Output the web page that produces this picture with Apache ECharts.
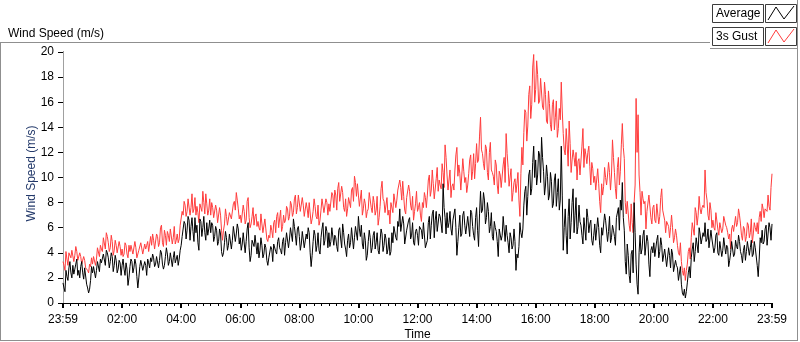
<!DOCTYPE html>
<html lang="en">
<head>
    <meta charset="UTF-8">
    <title>Wind Speed</title>
    <script src="https://cdn.jsdelivr.net/npm/echarts@6/dist/echarts.min.js"></script>
    <style>
        html,body{margin:0;padding:0;background:#fff;}
        #chart{width:800px;height:342px;}
    </style>
</head>
<body>
<div id="chart"></div>
<script>
    // samples every 2 minutes from 23:59: avgSpeed/gustSpeed at 0,4,8.. min, the *Mid arrays at 2,6,10.. min
    var TICK_LABELS = ['23:59','02:00','04:00','06:00','08:00','10:00','12:00','14:00','16:00','18:00','20:00','22:00','23:59'];
    var SERIES_NAMES = ['Average', '3s Gust'];

    var avgSpeed = [
        1.6, 0.9, 2.1, 2.8, 2.4, 3.0, 2.7, 3.5, 2.6, 2.9, 2.4, 2.8, 1.5, 0.8, 1.8,
        2.4, 2.9, 2.6, 3.2, 3.5, 3.1, 3.9, 4.2, 3.6, 3.3, 3.7, 3.0, 3.4, 2.7, 3.2,
        3.0, 2.7, 3.2, 1.4, 2.9, 3.3, 2.8, 3.1, 1.2, 2.9, 3.4, 2.6, 3.0, 3.5, 2.8,
        3.3, 3.6, 3.1, 3.8, 3.4, 4.0, 2.7, 3.7, 3.9, 3.3, 4.1, 3.6, 3.2, 3.8, 3.5,
        4.6, 5.4, 6.3, 5.8, 6.6, 6.1, 5.7, 6.8, 6.2, 4.2, 6.5, 6.0, 5.6, 6.4, 5.9,
        5.6, 6.2, 5.3, 5.8, 4.9, 5.5, 3.7, 4.8, 5.2, 4.6, 5.4, 5.0, 6.1, 5.5, 5.9,
        5.2, 4.7, 5.5, 4.9, 6.4, 3.3, 5.0, 4.5, 5.3, 4.8, 4.2, 4.6, 3.9, 4.4, 3.0,
        3.6, 4.3, 4.7, 4.1, 4.9, 4.4, 3.9, 5.2, 4.8, 5.6, 5.1, 6.0, 6.7, 5.4, 5.9,
        5.3, 4.7, 5.8, 4.4, 5.1, 5.6, 2.9, 4.9, 5.4, 4.6, 4.2, 5.2, 6.4, 5.0, 5.7,
        5.6, 4.9, 6.1, 5.4, 4.5, 5.8, 5.1, 6.3, 4.7, 3.7, 5.5, 4.8, 5.9, 5.2, 6.2,
        6.9, 5.3, 4.7, 5.6, 3.4, 4.9, 5.2, 4.4, 5.7, 4.8, 4.2, 5.0, 5.5, 4.6, 5.1,
        4.3, 3.8, 5.6, 6.1, 5.2, 6.5, 7.5, 5.8, 6.3, 4.6, 5.9, 6.8, 5.4, 4.8, 5.7,
        5.4, 6.1, 5.8, 6.4, 4.4, 5.0, 6.9, 6.2, 7.4, 6.6, 5.7, 7.1, 6.3, 9.5, 6.8,
        7.2, 6.4, 5.9, 6.6, 7.5, 3.8, 6.0, 5.3, 7.0, 6.2, 5.6, 6.8, 7.4, 6.1, 5.0,
        7.6, 4.5, 8.9, 7.4, 8.2, 6.8, 7.3, 6.1, 5.3, 6.5, 5.7, 3.7, 6.0, 5.4, 7.0,
        6.2, 4.8, 5.6, 4.3, 5.9, 2.6, 3.6, 6.4, 5.2, 7.8, 9.3, 8.5, 10.6, 9.1, 12.5,
        11.4, 10.2, 11.8, 13.2, 10.5, 9.4, 10.1, 8.6, 9.7, 7.9, 10.3, 8.8, 7.4, 12.5, 4.2,
        7.5, 3.9, 8.3, 6.4, 9.1, 7.0, 5.5, 7.8, 6.2, 4.7, 6.9, 7.5, 5.6, 6.6, 4.6,
        6.3, 5.1, 6.0, 4.0, 5.4, 7.1, 6.5, 5.7, 4.8, 6.2, 5.3, 6.8, 7.6, 8.2, 9.6,
        5.8, 2.3, 3.8, 1.6, 4.2, 8.0, 3.1, 0.7, 5.4, 4.3, 5.8, 3.9, 4.9, 2.1, 4.5,
        4.8, 3.7, 5.4, 4.1, 4.6, 3.3, 4.2, 2.9, 3.8, 4.3, 2.5, 3.4, 2.8, 1.9, 1.5,
        0.6, 0.4, 1.6, 2.9, 3.6, 4.8, 4.1, 5.3, 6.0, 4.7, 5.6, 6.4, 5.1, 4.4, 5.8,
        5.1, 4.4, 5.6, 3.8, 4.8, 4.2, 5.3, 4.6, 2.9, 4.0, 5.0, 3.9, 4.5, 5.4, 4.1,
        3.2, 4.6, 4.1, 5.0, 4.4, 3.7, 4.9, 4.3, 2.1, 5.2, 5.8, 4.9, 6.2, 5.5, 6.0, 6.3
    ];

    var avgSpeedMid = [
        1.2, 2.6, 1.8, 3.3, 2.0, 2.3, 3.1, 2.2, 2.0, 3.3, 1.9, 2.7, 1.2, 1.1, 2.9,
        2.9, 2.0, 3.3, 2.5, 3.2, 3.9, 3.0, 4.0, 2.8, 4.0, 2.5, 3.8, 2.4, 3.4, 2.2,
        3.5, 2.2, 2.7, 2.0, 3.5, 2.4, 3.5, 2.1, 2.0, 3.4, 2.6, 3.3, 2.2, 3.2, 3.6,
        3.9, 2.9, 3.7, 2.8, 4.2, 3.1, 3.0, 4.4, 3.0, 4.0, 2.9, 4.1, 3.1, 3.0, 4.2,
        5.3, 6.5, 5.1, 6.9, 5.0, 6.8, 4.9, 5.6, 4.8, 6.7, 5.3, 6.9, 5.0, 5.4, 6.6,
        6.4, 4.9, 6.1, 4.6, 5.9, 4.1, 4.0, 5.7, 4.2, 5.5, 4.3, 6.1, 4.9, 6.3, 4.7,
        4.2, 5.6, 4.0, 5.9, 4.4, 3.8, 4.9, 5.4, 3.9, 3.6, 5.2, 3.6, 4.7, 3.4, 3.6,
        4.5, 3.3, 4.6, 3.9, 5.2, 4.2, 4.9, 3.8, 5.6, 4.4, 6.0, 4.9, 6.1, 4.6, 6.1,
        4.2, 5.7, 4.4, 5.5, 6.0, 4.0, 3.8, 5.8, 4.1, 5.6, 3.9, 5.9, 4.6, 6.1, 4.4,
        4.5, 6.0, 4.6, 5.2, 4.1, 6.0, 4.4, 5.6, 4.3, 5.0, 4.4, 6.0, 4.3, 6.1, 5.0,
        5.9, 6.2, 4.3, 5.0, 3.8, 5.8, 4.0, 5.4, 4.3, 5.6, 3.9, 5.9, 4.1, 5.5, 3.9,
        5.2, 4.1, 4.8, 6.2, 5.0, 6.1, 5.7, 6.9, 4.7, 5.8, 6.6, 5.1, 6.4, 4.6, 5.9,
        4.6, 6.0, 5.1, 6.3, 4.7, 6.4, 5.1, 7.1, 5.2, 7.3, 5.6, 6.9, 5.6, 7.6, 5.5,
        6.0, 7.3, 5.4, 6.5, 6.0, 4.9, 7.0, 5.5, 7.3, 5.5, 6.9, 5.3, 7.2, 5.4, 6.8,
        5.8, 7.1, 7.2, 8.8, 6.3, 8.0, 5.6, 7.2, 5.0, 6.0, 4.9, 5.9, 5.0, 6.9, 4.9,
        5.4, 4.0, 5.2, 4.6, 4.9, 3.9, 4.5, 5.6, 5.9, 8.9, 7.0, 10.2, 8.6, 11.2, 10.0,
        9.4, 12.1, 9.6, 11.6, 8.6, 11.0, 8.2, 10.4, 7.6, 9.8, 7.7, 9.9, 8.2, 8.6, 6.0,
        5.4, 6.9, 5.1, 8.0, 5.6, 8.4, 6.1, 6.5, 5.4, 6.8, 5.0, 6.8, 6.3, 5.0, 5.4,
        5.0, 6.8, 4.6, 6.0, 5.5, 6.6, 4.9, 6.9, 5.2, 5.8, 4.6, 6.7, 5.8, 7.4, 6.8,
        3.3, 4.7, 2.2, 3.9, 2.4, 5.6, 1.5, 4.0, 3.9, 5.4, 3.8, 5.4, 3.1, 4.2, 4.0,
        3.7, 5.0, 3.6, 5.2, 3.3, 4.3, 2.9, 4.4, 2.8, 3.9, 2.6, 3.0, 1.8, 2.9, 0.8,
        1.1, 0.9, 2.4, 2.0, 4.3, 3.3, 5.2, 4.0, 5.5, 4.6, 5.3, 4.9, 5.9, 4.5, 5.1,
        4.0, 5.4, 4.0, 4.9, 3.7, 5.2, 3.9, 4.4, 3.4, 4.9, 3.7, 5.0, 4.3, 4.9, 3.8,
        4.2, 3.4, 4.9, 3.8, 5.0, 3.9, 4.4, 3.0, 3.5, 4.8, 4.7, 5.9, 4.6, 6.4, 5.0
    ];

    var gustSpeed = [
        3.3, 2.6, 3.5, 4.0, 3.6, 4.2, 3.8, 4.1, 3.4, 3.7, 3.1, 3.4, 2.8, 2.4, 2.9,
        3.1, 3.8, 3.5, 4.3, 4.6, 4.1, 5.1, 5.6, 4.8, 4.4, 4.9, 4.2, 4.6, 3.9, 4.5,
        4.3, 3.9, 4.6, 3.6, 4.1, 4.7, 4.0, 4.4, 3.5, 4.2, 4.8, 3.8, 4.3, 4.9, 4.1,
        4.6, 5.0, 4.4, 5.3, 4.8, 6.2, 4.5, 5.4, 5.7, 4.9, 6.0, 5.2, 4.7, 5.5, 5.1,
        6.1, 7.0, 7.8, 7.3, 8.2, 7.6, 7.2, 8.4, 7.7, 6.4, 8.0, 8.9, 7.1, 7.9, 7.4,
        7.0, 7.6, 6.8, 7.4, 6.5, 7.0, 5.0, 6.3, 6.9, 6.1, 7.2, 6.6, 8.1, 8.8, 7.5,
        7.0, 6.4, 7.3, 6.6, 8.4, 6.0, 6.9, 6.2, 7.1, 6.5, 5.8, 6.3, 5.5, 5.9, 4.9,
        5.2, 5.8, 6.4, 5.6, 7.2, 6.1, 5.7, 7.0, 6.6, 7.5, 6.9, 7.8, 7.2, 8.6, 7.6,
        8.7, 7.2, 7.8, 6.8, 7.5, 8.0, 6.3, 7.3, 7.7, 6.7, 6.2, 7.4, 8.3, 7.1, 8.0,
        7.9, 7.2, 8.6, 9.0, 7.4, 9.6, 8.0, 8.8, 7.3, 6.9, 8.4, 7.6, 9.2, 10.1, 8.5,
        8.6, 7.8, 7.0, 8.3, 6.8, 7.5, 8.9, 7.2, 8.0, 7.4, 6.2, 7.7, 9.7, 8.1, 7.3,
        7.0, 6.3, 8.1, 8.7, 7.6, 9.0, 9.8, 8.2, 8.5, 7.1, 8.3, 8.9, 7.4, 6.6, 7.9,
        7.3, 8.0, 6.5, 7.6, 8.4, 8.6, 10.2, 9.0, 9.5, 8.4, 10.8, 9.8, 9.1, 10.4, 12.6,
        10.2, 9.1, 8.4, 9.5, 10.6, 12.4, 11.0, 9.0, 11.5, 9.6, 8.8, 10.3, 11.8, 10.5, 9.9,
        12.7, 11.4, 14.8, 11.9, 10.6, 12.3, 9.8, 12.8, 10.4, 9.4, 11.0, 8.7, 10.2, 9.3, 11.6,
        13.5, 10.8, 9.2, 8.1, 9.6, 8.8, 10.4, 6.9, 12.4, 13.6, 15.2, 14.1, 17.3, 15.8, 19.8,
        17.0, 18.2, 16.1, 17.8, 15.4, 16.6, 14.3, 15.9, 13.7, 16.2, 14.8, 13.2, 15.5, 17.6, 13.5,
        11.8, 12.6, 14.5, 10.4, 12.2, 10.9, 9.8, 11.5, 10.2, 13.9, 12.3, 11.1, 12.5, 9.4, 10.7,
        10.1, 8.9, 9.5, 7.2, 8.6, 10.8, 9.4, 11.2, 9.0, 13.0, 10.4, 8.3, 11.6, 10.5, 14.3,
        11.5, 7.1, 8.2, 5.7, 6.4, 8.0, 16.3, 15.0, 8.8, 8.9, 7.9, 5.9, 7.4, 8.5, 6.3,
        7.8, 6.4, 7.9, 6.9, 9.1, 7.3, 5.6, 6.5, 5.2, 7.0, 4.8, 5.9, 4.6, 3.8, 3.3,
        2.2, 1.8, 3.1, 4.4, 5.2, 6.5, 7.6, 6.2, 8.5, 7.1, 7.8, 10.6, 8.2, 6.6, 7.4,
        6.6, 5.8, 7.1, 5.4, 6.4, 5.9, 6.9, 6.0, 5.1, 4.3, 6.2, 5.6, 6.1, 7.5, 6.3,
        5.0, 5.9, 5.3, 6.2, 5.6, 4.8, 6.4, 5.7, 5.5, 7.3, 7.9, 6.8, 7.6, 8.6, 7.4, 10.3
    ];

    var gustSpeedMid = [
        3.0, 4.1, 3.0, 3.9, 4.2, 3.3, 4.5, 3.4, 4.0, 3.1, 3.7, 2.8, 2.6, 3.1, 3.6,
        3.7, 3.0, 4.4, 3.7, 4.3, 5.2, 4.3, 5.3, 4.1, 5.4, 3.8, 5.0, 4.0, 4.9, 3.8,
        3.7, 4.8, 3.9, 4.6, 4.6, 3.9, 4.9, 3.6, 4.2, 4.8, 3.9, 4.7, 4.6, 4.1, 5.3,
        5.5, 4.3, 5.5, 4.5, 6.0, 4.8, 5.8, 4.6, 5.4, 5.9, 4.7, 6.1, 5.0, 4.8, 6.2,
        7.3, 8.1, 6.9, 8.3, 7.0, 8.7, 7.5, 7.0, 7.2, 7.9, 7.3, 8.0, 8.7, 7.0, 8.3,
        8.0, 6.8, 7.8, 6.4, 7.6, 5.8, 5.8, 7.5, 6.2, 7.2, 6.7, 7.9, 7.4, 8.2, 6.7,
        6.4, 7.8, 6.3, 8.1, 6.8, 6.3, 7.6, 6.9, 6.1, 6.0, 7.1, 5.6, 6.7, 5.1, 5.4,
        6.2, 5.2, 6.6, 6.9, 6.0, 7.4, 6.1, 6.4, 7.7, 6.6, 8.1, 6.9, 8.3, 7.1, 8.6,
        7.3, 8.4, 6.9, 8.0, 6.8, 7.9, 6.7, 8.3, 6.9, 7.8, 6.6, 8.3, 7.2, 8.3, 7.0,
        7.3, 8.8, 7.6, 8.6, 9.1, 8.1, 9.3, 7.6, 8.3, 7.5, 8.4, 9.0, 8.1, 9.6, 9.5,
        7.7, 9.0, 7.5, 7.9, 7.3, 8.8, 7.6, 8.5, 7.0, 8.5, 6.8, 9.1, 8.3, 7.2, 8.4,
        7.4, 8.0, 7.2, 8.7, 8.2, 8.9, 9.2, 9.7, 7.4, 8.4, 9.4, 7.8, 8.5, 7.3, 8.9,
        7.6, 7.0, 8.0, 8.8, 7.6, 9.8, 8.5, 10.6, 8.3, 9.9, 8.9, 9.4, 11.1, 9.2, 11.6,
        9.0, 10.6, 9.3, 9.0, 11.8, 10.1, 10.3, 10.2, 10.5, 10.0, 9.4, 11.4, 9.8, 11.9, 11.1,
        11.2, 13.3, 12.2, 11.1, 12.6, 10.4, 12.0, 10.6, 10.1, 11.4, 9.4, 10.5, 9.2, 11.0, 9.6,
        11.9, 9.3, 10.7, 8.8, 9.9, 9.5, 8.2, 10.3, 11.0, 15.4, 12.9, 16.6, 14.7, 18.8, 16.0,
        19.3, 15.9, 17.9, 15.6, 17.6, 14.5, 16.9, 14.2, 15.8, 13.8, 16.1, 13.9, 14.6, 15.3, 12.2,
        13.9, 10.9, 12.7, 11.4, 11.6, 12.0, 11.3, 10.2, 12.5, 10.8, 11.8, 12.0, 10.9, 11.2, 9.6,
        9.0, 10.7, 8.1, 9.5, 9.3, 10.0, 10.2, 10.4, 10.2, 11.6, 9.1, 10.8, 9.4, 12.6, 12.4,
        8.0, 8.1, 6.2, 7.9, 5.6, 9.4, 12.0, 10.2, 7.0, 8.3, 8.1, 7.3, 8.6, 6.8, 7.6,
        6.6, 7.9, 6.3, 8.4, 7.4, 6.6, 6.5, 6.1, 6.0, 6.0, 5.2, 5.4, 4.0, 4.8, 2.6,
        2.8, 2.6, 4.1, 3.5, 6.4, 5.4, 7.2, 7.0, 7.5, 7.6, 7.6, 8.8, 7.0, 8.0, 6.0,
        6.0, 7.2, 5.9, 6.4, 5.6, 6.9, 6.2, 5.6, 5.5, 5.9, 5.7, 6.9, 6.4, 7.0, 5.4,
        6.1, 4.9, 6.4, 5.2, 6.7, 5.5, 6.0, 6.4, 6.8, 6.5, 7.5, 7.5, 7.3, 7.7, 9.2
    ];

    var FONT = 'Liberation Sans, Arial, sans-serif';
    var FRAME = '#8f8f8f';

    // merge the two interleaved sample sets into [minute, value] pairs
    function pairs(onFour, between) {
        var out = [];
        for (var i = 0; i < onFour.length; i++) {
            out.push([i * 4, onFour[i]]);
            if (i < between.length) out.push([i * 4 + 2, between[i]]);
        }
        return out;
    }

    function hline(x1, x2, y, color) {
        return {type: 'line', shape: {x1: x1, y1: y, x2: x2, y2: y}, style: {stroke: color, lineWidth: 1}, silent: true};
    }
    function vline(x, y1, y2, color) {
        return {type: 'line', shape: {x1: x, y1: y1, x2: x, y2: y2}, style: {stroke: color, lineWidth: 1}, silent: true};
    }
    function legendRow(y, name, color) {
        return [
            {type: 'rect', shape: {x: 712.5, y: y + 0.5, width: 51, height: 18}, style: {fill: '#fff', stroke: '#3c3c3c', lineWidth: 1}},
            {type: 'text', x: 716, y: y + 10, style: {text: name, font: '12px ' + FONT, fill: '#000', verticalAlign: 'middle'}},
            {type: 'rect', shape: {x: 765.5, y: y + 0.5, width: 31, height: 18}, style: {fill: '#fff', stroke: '#3c3c3c', lineWidth: 1}},
            {type: 'polyline', shape: {points: [[768, y + 16], [776, y + 3], [784, y + 15], [794, y + 2]]}, style: {stroke: color, lineWidth: 1, fill: null}}
        ];
    }

    var graphics = [
        hline(0, 710, 42.5, FRAME),
        vline(0.5, 42, 341, FRAME),
        hline(0, 798, 340.5, FRAME),
        vline(797.5, 0, 341, FRAME),
        hline(710, 798, 48.5, FRAME)
    ].concat(legendRow(4, SERIES_NAMES[0], '#000'), legendRow(27, SERIES_NAMES[1], '#ff3c3c'));

    var option = {
        animation: false,
        backgroundColor: '#fff',
        title: {
            text: 'Wind Speed (m/s)',
            left: 3,
            top: 23,
            textStyle: {fontSize: 12, fontWeight: 'normal', color: '#000', fontFamily: FONT}
        },
        grid: {left: 63, right: 28, top: 52, bottom: 39, outerBoundsMode: 'none'},
        xAxis: [{
            type: 'value',
            min: 0,
            max: 1440,
            interval: 120,
            name: 'Time',
            nameLocation: 'middle',
            nameGap: 26,
            nameMoveOverlap: false,
            nameTextStyle: {fontSize: 12, color: '#000', fontFamily: FONT},
            axisLine: {show: true, lineStyle: {color: '#a0a0a0', width: 1}},
            axisTick: {show: true, length: 5, lineStyle: {color: '#000', width: 2}},
            minorTick: {show: true, splitNumber: 8, length: 3, lineStyle: {color: '#000', width: 1}},
            axisLabel: {
                fontSize: 12, color: '#000', fontFamily: FONT, margin: 11,
                showMinLabel: true, showMaxLabel: true,
                formatter: function (v) { return TICK_LABELS[Math.round(v / 120)]; }
            },
            splitLine: {show: false}
        }, {
            type: 'value', position: 'top', min: 0, max: 1440,
            axisLine: {show: true, lineStyle: {color: '#000', width: 1}},
            axisTick: {show: false}, axisLabel: {show: false}, splitLine: {show: false}
        }],
        yAxis: [{
            type: 'value',
            min: 0,
            max: 20,
            interval: 2,
            name: 'Wind Speed (m/s)',
            nameLocation: 'middle',
            nameGap: 25,
            nameMoveOverlap: false,
            nameTextStyle: {fontSize: 12, color: '#23396a', fontFamily: FONT, padding: [0, 0, 0, 8]},
            axisLine: {show: true, lineStyle: {color: '#000', width: 1}},
            axisTick: {show: true, length: 5, lineStyle: {color: '#000'}},
            axisLabel: {fontSize: 12, color: '#000', fontFamily: FONT, margin: 9},
            splitLine: {show: false}
        }, {
            type: 'value', position: 'right', min: 0, max: 20, interval: 2,
            axisLine: {show: true, lineStyle: {color: '#a0a0a0', width: 1}},
            axisTick: {show: false}, axisLabel: {show: false}, splitLine: {show: false}
        }],
        graphic: graphics,
        series: [{
            name: SERIES_NAMES[1],
            type: 'line',
            data: pairs(gustSpeed, gustSpeedMid),
            showSymbol: false,
            lineStyle: {color: '#ff3c3c', width: 1},
            itemStyle: {color: '#ff3c3c'}
        }, {
            name: SERIES_NAMES[0],
            type: 'line',
            data: pairs(avgSpeed, avgSpeedMid),
            showSymbol: false,
            lineStyle: {color: '#000', width: 1},
            itemStyle: {color: '#000'}
        }]
    };

    var chart = echarts.init(document.getElementById('chart'), null, {renderer: 'canvas'});
    chart.setOption(option);
</script>
</body>
</html>
